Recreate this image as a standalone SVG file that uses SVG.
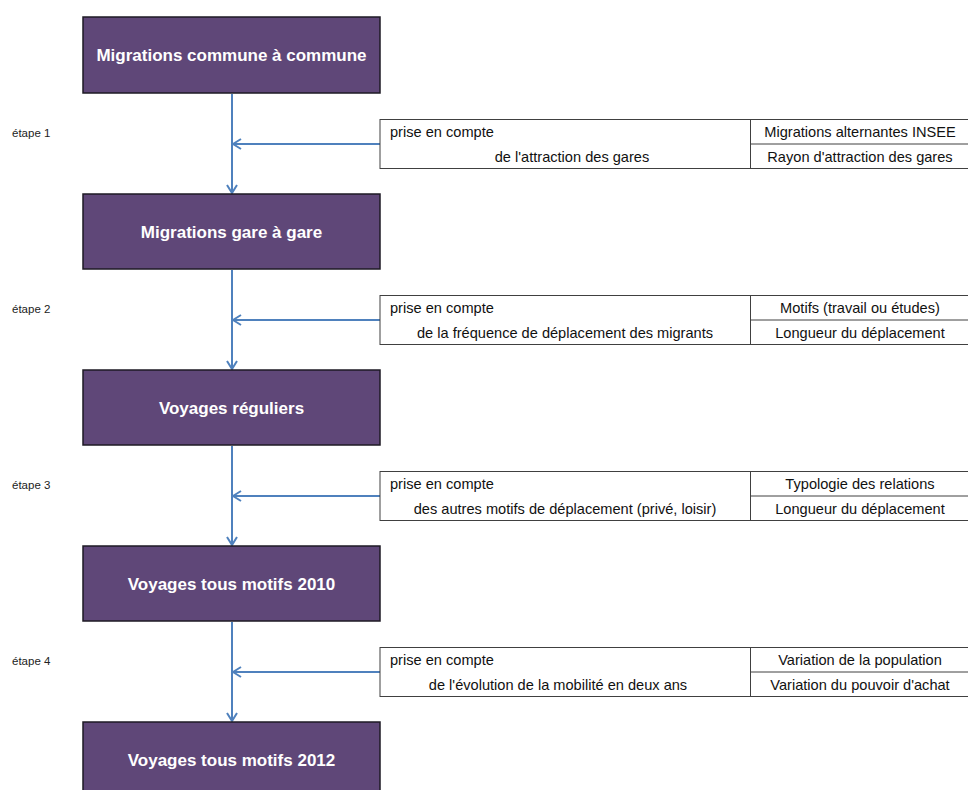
<svg xmlns="http://www.w3.org/2000/svg" width="968" height="790" viewBox="0 0 968 790">
<defs>
<style>
.box{fill:#5f4778;stroke:#1e1a24;stroke-width:1.5}
.bt{font-family:"Liberation Sans",Arial,sans-serif;font-weight:bold;font-size:17px;fill:#ffffff;text-anchor:middle}
.tb{fill:#ffffff;stroke:#404040;stroke-width:1}
.tl{stroke:#404040;stroke-width:1}
.tt{font-family:"Liberation Sans",Arial,sans-serif;font-size:14.6px;fill:#111111}
.c{text-anchor:middle}
.et{font-family:"Liberation Sans",Arial,sans-serif;font-size:11.5px;fill:#222222}
.ar{stroke:#4f81bd;stroke-width:2;fill:none}
</style>
<marker id="ah" viewBox="0 0 12 12" refX="11" refY="6" markerWidth="12" markerHeight="12" markerUnits="userSpaceOnUse" orient="auto">
<path d="M3,1 L11,6 L3,11" fill="none" stroke="#4f81bd" stroke-width="2"/>
</marker>
</defs>
<rect width="968" height="790" fill="#ffffff"/>
<g id="connectors">
<line class="ar" x1="232" y1="94" x2="232" y2="193" marker-end="url(#ah)"/>
<line class="ar" x1="380" y1="144" x2="233" y2="144" marker-end="url(#ah)"/>
<line class="ar" x1="232" y1="270" x2="232" y2="369" marker-end="url(#ah)"/>
<line class="ar" x1="380" y1="320" x2="233" y2="320" marker-end="url(#ah)"/>
<line class="ar" x1="232" y1="446" x2="232" y2="545" marker-end="url(#ah)"/>
<line class="ar" x1="380" y1="496" x2="233" y2="496" marker-end="url(#ah)"/>
<line class="ar" x1="232" y1="622" x2="232" y2="721" marker-end="url(#ah)"/>
<line class="ar" x1="380" y1="672" x2="233" y2="672" marker-end="url(#ah)"/>
</g>
<g id="node1"><rect class="box" x="83" y="17" width="297" height="76"/><text class="bt" x="231.5" y="61">Migrations commune à commune</text></g>
<g id="node2"><rect class="box" x="83" y="194" width="297" height="75"/><text class="bt" x="231.5" y="238">Migrations gare à gare</text></g>
<g id="node3"><rect class="box" x="83" y="370" width="297" height="75"/><text class="bt" x="231.5" y="414">Voyages réguliers</text></g>
<g id="node4"><rect class="box" x="83" y="546" width="297" height="75"/><text class="bt" x="231.5" y="590">Voyages tous motifs 2010</text></g>
<g id="node5"><rect class="box" x="83" y="722" width="297" height="75"/><text class="bt" x="231.5" y="766">Voyages tous motifs 2012</text></g>

<g id="etape1"><text class="et" x="12" y="137">étape 1</text></g>
<g id="etape2"><text class="et" x="12" y="313">étape 2</text></g>
<g id="etape3"><text class="et" x="12" y="489">étape 3</text></g>
<g id="etape4"><text class="et" x="12" y="665">étape 4</text></g>

<g id="table1">
<rect class="tb" x="380" y="119.5" width="600" height="49"/>
<line class="tl" x1="750.5" y1="119.5" x2="750.5" y2="168.5"/>
<line class="tl" x1="750.5" y1="144" x2="968" y2="144"/>
<text class="tt" x="390" y="137">prise en compte</text>
<text class="tt c" x="572" y="162">de l'attraction des gares</text>
<text class="tt c" x="860" y="137">Migrations alternantes INSEE</text>
<text class="tt c" x="860" y="162">Rayon d'attraction des gares</text>
</g>
<g id="table2">
<rect class="tb" x="380" y="295.5" width="600" height="49"/>
<line class="tl" x1="750.5" y1="295.5" x2="750.5" y2="344.5"/>
<line class="tl" x1="750.5" y1="320" x2="968" y2="320"/>
<text class="tt" x="390" y="313">prise en compte</text>
<text class="tt c" x="565" y="338">de la fréquence de déplacement des migrants</text>
<text class="tt c" x="860" y="313">Motifs (travail ou études)</text>
<text class="tt c" x="860" y="338">Longueur du déplacement</text>
</g>
<g id="table3">
<rect class="tb" x="380" y="471.5" width="600" height="49"/>
<line class="tl" x1="750.5" y1="471.5" x2="750.5" y2="520.5"/>
<line class="tl" x1="750.5" y1="496" x2="968" y2="496"/>
<text class="tt" x="390" y="489">prise en compte</text>
<text class="tt c" x="565" y="514">des autres motifs de déplacement (privé, loisir)</text>
<text class="tt c" x="860" y="489">Typologie des relations</text>
<text class="tt c" x="860" y="514">Longueur du déplacement</text>
</g>
<g id="table4">
<rect class="tb" x="380" y="647.5" width="600" height="49"/>
<line class="tl" x1="750.5" y1="647.5" x2="750.5" y2="696.5"/>
<line class="tl" x1="750.5" y1="672" x2="968" y2="672"/>
<text class="tt" x="390" y="665">prise en compte</text>
<text class="tt c" x="558" y="690">de l'évolution de la mobilité en deux ans</text>
<text class="tt c" x="860" y="665">Variation de la population</text>
<text class="tt c" x="860" y="690">Variation du pouvoir d'achat</text>
</g>
</svg>
